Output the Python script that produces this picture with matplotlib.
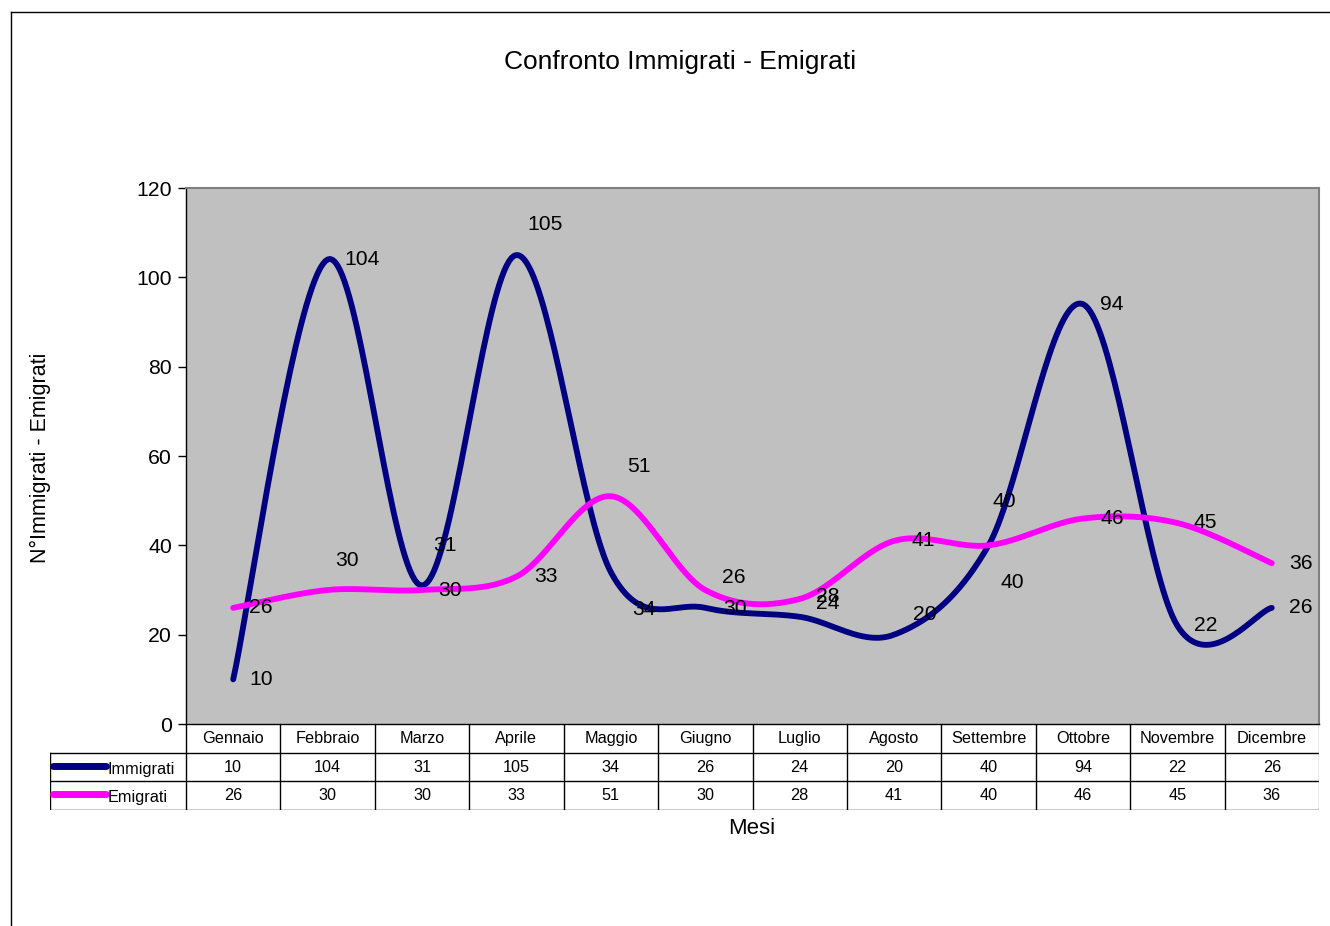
import matplotlib

matplotlib.use("Agg")
import matplotlib.pyplot as plt
import numpy as np
from matplotlib.lines import Line2D

plt.rcParams["font.family"] = ["Liberation Sans", "DejaVu Sans"]

mesi = ["Gennaio", "Febbraio", "Marzo", "Aprile", "Maggio", "Giugno",
        "Luglio", "Agosto", "Settembre", "Ottobre", "Novembre", "Dicembre"]
immigrati = [10, 104, 31, 105, 34, 26, 24, 20, 40, 94, 22, 26]
emigrati = [26, 30, 30, 33, 51, 30, 28, 41, 40, 46, 45, 36]

# posizione delle etichette (pixel rispetto al punto), come nell'originale Excel
off_imm = [(28, 0), (34, 0), (23, 40), (29, 30), (33, -37), (28, 30),
           (28, 13), (31, 20), (16, 44), (29, 0), (28, 0), (29, 0)]
off_emi = [(28, 0), (19, 29), (28, 0), (29, 0), (28, 30), (30, -18),
           (28, 2), (29, 0), (24, -37), (29, 0), (28, 0), (29, 0)]

BLU = "#000080"
ROSA = "#FF00FF"
W, H = 1330, 926


def smooth(values, n=40):
    """Curva smussata tipo Excel (Bezier con punti di controllo Catmull-Rom)."""
    p = np.column_stack([np.arange(len(values)), np.asarray(values, float)])
    ext = np.vstack([p[0], p, p[-1]])
    out = []
    t = np.linspace(0, 1, n)[:, None]
    for i in range(len(p) - 1):
        p0, p1, p2, p3 = ext[i], ext[i + 1], ext[i + 2], ext[i + 3]
        c1 = p1 + (p2 - p0) / 6
        c2 = p2 - (p3 - p1) / 6
        seg = ((1 - t) ** 3) * p1 + 3 * ((1 - t) ** 2) * t * c1 + 3 * (1 - t) * t ** 2 * c2 + t ** 3 * p2
        out.append(seg if i == 0 else seg[1:])
    out = np.vstack(out)
    return out[:, 0], out[:, 1]


fig = plt.figure(figsize=(W / 100, H / 100), dpi=100)

ax = fig.add_axes([186 / W, 1 - 724 / H, (1319 - 186) / W, (724 - 188) / H])
ax.set_facecolor("#C0C0C0")
ax.set_xlim(-0.5, len(mesi) - 0.5)
ax.set_ylim(0, 120)
ax.set_yticks(range(0, 121, 20))
ax.set_xticks([])
ax.tick_params(axis="y", labelsize=15.3, length=6, width=1, color="black", pad=4)
for s in ("top", "right"):
    ax.spines[s].set_color("#808080")
    ax.spines[s].set_linewidth(1.5)
for s in ("left", "bottom"):
    ax.spines[s].set_color("black")
    ax.spines[s].set_linewidth(1)

for vals, col, offs in ((immigrati, BLU, off_imm), (emigrati, ROSA, off_emi)):
    xs, ys = smooth(vals)
    ax.plot(xs, ys, color=col, lw=4.2, solid_capstyle="round", zorder=3)
    for i, (v, (dx, dy)) in enumerate(zip(vals, offs)):
        ax.annotate(str(v), (i, v), xytext=(dx, dy), textcoords="offset pixels",
                    ha="center", va="center", fontsize=15.2, zorder=4)

# tabella dati sotto il grafico
tab = fig.add_axes([50 / W, 1 - 810 / H, (1319 - 50) / W, (810 - 724) / H])
left = -0.5 - 136 / (1133 / 12)
tab.set_xlim(left, len(mesi) - 0.5)
tab.set_ylim(3, 0)
tab.axis("off")
for y in (1, 2, 3):
    tab.plot([left, len(mesi) - 0.5], [y, y], color="black", lw=1)
for k in range(len(mesi) + 1):
    tab.plot([k - 0.5, k - 0.5], [0, 3], color="black" if k < len(mesi) else "#808080", lw=1)
tab.plot([left, left], [1, 3], color="black", lw=1)

for i, m in enumerate(mesi):
    tab.text(i, 0.5, m, ha="center", va="center", fontsize=11.7)
    tab.text(i, 1.5, str(immigrati[i]), ha="center", va="center", fontsize=11.7)
    tab.text(i, 2.5, str(emigrati[i]), ha="center", va="center", fontsize=11.7)

for row, (name, col) in enumerate((("Immigrati", BLU), ("Emigrati", ROSA)), start=1):
    x0 = left + 3 / (1133 / 12)
    x1 = left + 56 / (1133 / 12)
    tab.plot([x0, x1], [row + 0.45, row + 0.45], color=col, lw=5, solid_capstyle="round")
    tab.text(x1 + 2 / (1133 / 12), row + 0.58, name, ha="left", va="center", fontsize=11.7)

fig.text(680 / W, 1 - 62 / H, "Confronto Immigrati - Emigrati", ha="center", va="center", fontsize=19)
fig.text(40 / W, 1 - 458 / H, "N°Immigrati - Emigrati", ha="center", va="center",
         rotation=90, fontsize=15.5)
fig.text(752 / W, 1 - 829 / H, "Mesi", ha="center", va="center", fontsize=16)

# bordo dell'area del grafico
fig.add_artist(Line2D([11 / W, 1], [1 - 12 / H, 1 - 12 / H], color="black", lw=1))
fig.add_artist(Line2D([11 / W, 11 / W], [1 - 12 / H, 0], color="black", lw=1))

fig.savefig("out.png", dpi=100)
